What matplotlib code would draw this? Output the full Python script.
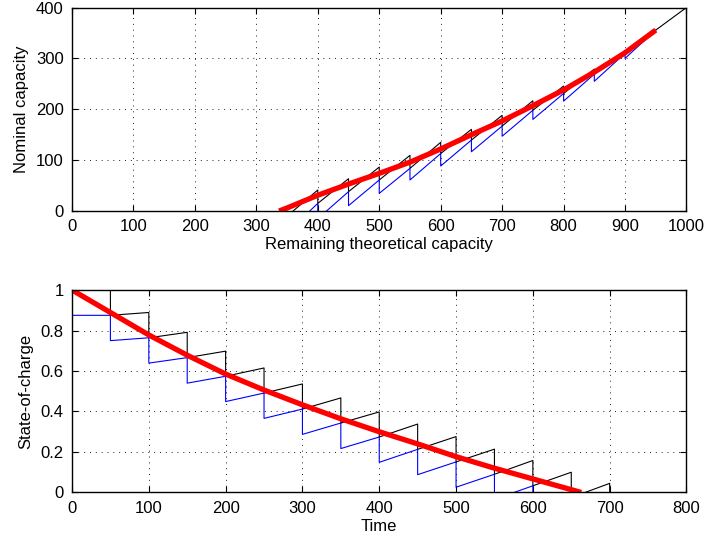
import matplotlib
matplotlib.use("Agg")
import matplotlib.pyplot as plt
import numpy as np

plt.rcParams['font.family'] = ['Liberation Sans', 'DejaVu Sans']
plt.rcParams['font.size'] = 12

# ---------------- top panel data ----------------
# blue sawtooth: each segment runs from x0 to x0+50
top_blue_x0 = [350, 400, 450, 500, 550, 600, 650, 700, 750, 800, 850, 900]
top_blue_start = [-42.0, -15.0, 10.5, 34.7, 61.0, 88.4, 116.5, 147.0, 180.0, 216.0, 255.0, 300.0]
top_blue_end = [15.0, 38.0, 61.0, 83.8, 113.0, 139.5, 167.0, 198.0, 231.0, 269.0, 310.0, 355.6]
# black sawtooth
top_black_x0 = [350, 400, 450, 500, 550, 600, 650, 700, 750, 800, 850, 900, 950]
top_black_start = [-10.0, 15.0, 38.0, 61.0, 83.8, 113.0, 139.5, 167.0, 198.0, 231.0, 269.0, 310.0, 355.6]
top_black_end = [41.3, 63.5, 86.4, 109.4, 135.0, 160.5, 188.0, 216.7, 245.6, 279.0, 315.0, 355.6, 400.0]
# red smooth curve
top_red_x = [337, 350, 400, 450, 500, 550, 600, 650, 700, 750, 800, 850, 900, 950]
top_red_y = [0.0, 6.0, 31.0, 53.0, 74.0, 96.0, 122.0, 150.0, 177.0, 207.0, 238.0, 273.0, 311.0, 355.6]

# ---------------- bottom panel data ----------------
bot_x0 = [0, 50, 100, 150, 200, 250, 300, 350, 400, 450, 500, 550, 600]
bot_blue_start = [0.875, 0.750, 0.639, 0.540, 0.449, 0.366, 0.287, 0.217, 0.149, 0.088, 0.026, -0.034, -0.092]
bot_blue_end = [0.875, 0.764, 0.666, 0.574, 0.491, 0.412, 0.343, 0.274, 0.213, 0.151, 0.090, 0.033, -0.025]
bot_black_x0 = [0, 50, 100, 150, 200, 250, 300, 350, 400, 450, 500, 550, 600, 650]
bot_black_start = [1.0, 0.875, 0.764, 0.666, 0.574, 0.491, 0.412, 0.343, 0.274, 0.213, 0.151, 0.090, 0.033, -0.025]
bot_black_end = [1.0, 0.889, 0.791, 0.698, 0.615, 0.536, 0.467, 0.398, 0.338, 0.276, 0.214, 0.158, 0.100, 0.045]
bot_black_final = -0.08
bot_red_t = [0, 50, 100, 150, 200, 250, 300, 350, 400, 450, 500, 550, 600, 650, 663]
bot_red_soc = [1.0, 0.889, 0.778, 0.678, 0.585, 0.506, 0.433, 0.364, 0.300, 0.240, 0.177, 0.120, 0.067, 0.014, 0.0]

SEG = 50


def saw(x0s, starts, ends, final=None):
    xs, ys = [], []
    for x0, s, e in zip(x0s, starts, ends):
        xs += [x0, x0 + SEG]
        ys += [s, e]
    if final is not None:
        xs.append(x0s[-1] + SEG)
        ys.append(final)
    return xs, ys


fig = plt.figure(figsize=(7.08, 5.44), dpi=100)
ax1 = fig.add_axes([0.1017, 0.6121, 0.9696 - 0.1017, 0.9862 - 0.6121])
ax2 = fig.add_axes([0.1017, 0.0947, 0.9696 - 0.1017, 0.4669 - 0.0947])

LW = 0.8
FS = 12
for ax in (ax1, ax2):
    ax.grid(True, color='#202020', linestyle=(0, (1, 5)), linewidth=0.7)
    ax.set_axisbelow(True)
    ax.tick_params(direction='in', top=True, right=True, length=4, width=0.8,
                   labelsize=FS, pad=6)
    for sp in ax.spines.values():
        sp.set_linewidth(1.0)

# top
bx, by = saw(top_black_x0, top_black_start, top_black_end)
ax1.plot(bx, by, color='black', lw=LW)
ux, uy = saw(top_blue_x0, top_blue_start, top_blue_end)
ax1.plot(ux, uy, color='blue', lw=LW)
ax1.plot(top_red_x, top_red_y, color='red', lw=3.8, solid_capstyle='butt')
ax1.set_xlim(0, 1000)
ax1.set_ylim(0, 400)
ax1.set_xticks(np.arange(0, 1001, 100))
ax1.set_yticks(np.arange(0, 401, 100))
ax1.set_xlabel('Remaining theoretical capacity', fontsize=FS, labelpad=2)
ax1.set_ylabel('Nominal capacity', fontsize=FS, labelpad=5)

# bottom
bx, by = saw(bot_black_x0, bot_black_start, bot_black_end, bot_black_final)
ax2.plot(bx, by, color='black', lw=LW)
ux, uy = saw(bot_x0, bot_blue_start, bot_blue_end)
ax2.plot(ux, uy, color='blue', lw=LW)
ax2.plot(bot_red_t, bot_red_soc, color='red', lw=3.8, solid_capstyle='butt')
ax2.set_xlim(0, 800)
ax2.set_ylim(0, 1)
ax2.set_xticks(np.arange(0, 801, 100))
ax2.set_yticks([0, 0.2, 0.4, 0.6, 0.8, 1])
ax2.set_yticklabels(['0', '0.2', '0.4', '0.6', '0.8', '1'])
ax2.set_xlabel('Time', fontsize=FS, labelpad=2)
ax2.set_ylabel('State-of-charge', fontsize=FS, labelpad=5)

fig.savefig('out.png', dpi=100)
